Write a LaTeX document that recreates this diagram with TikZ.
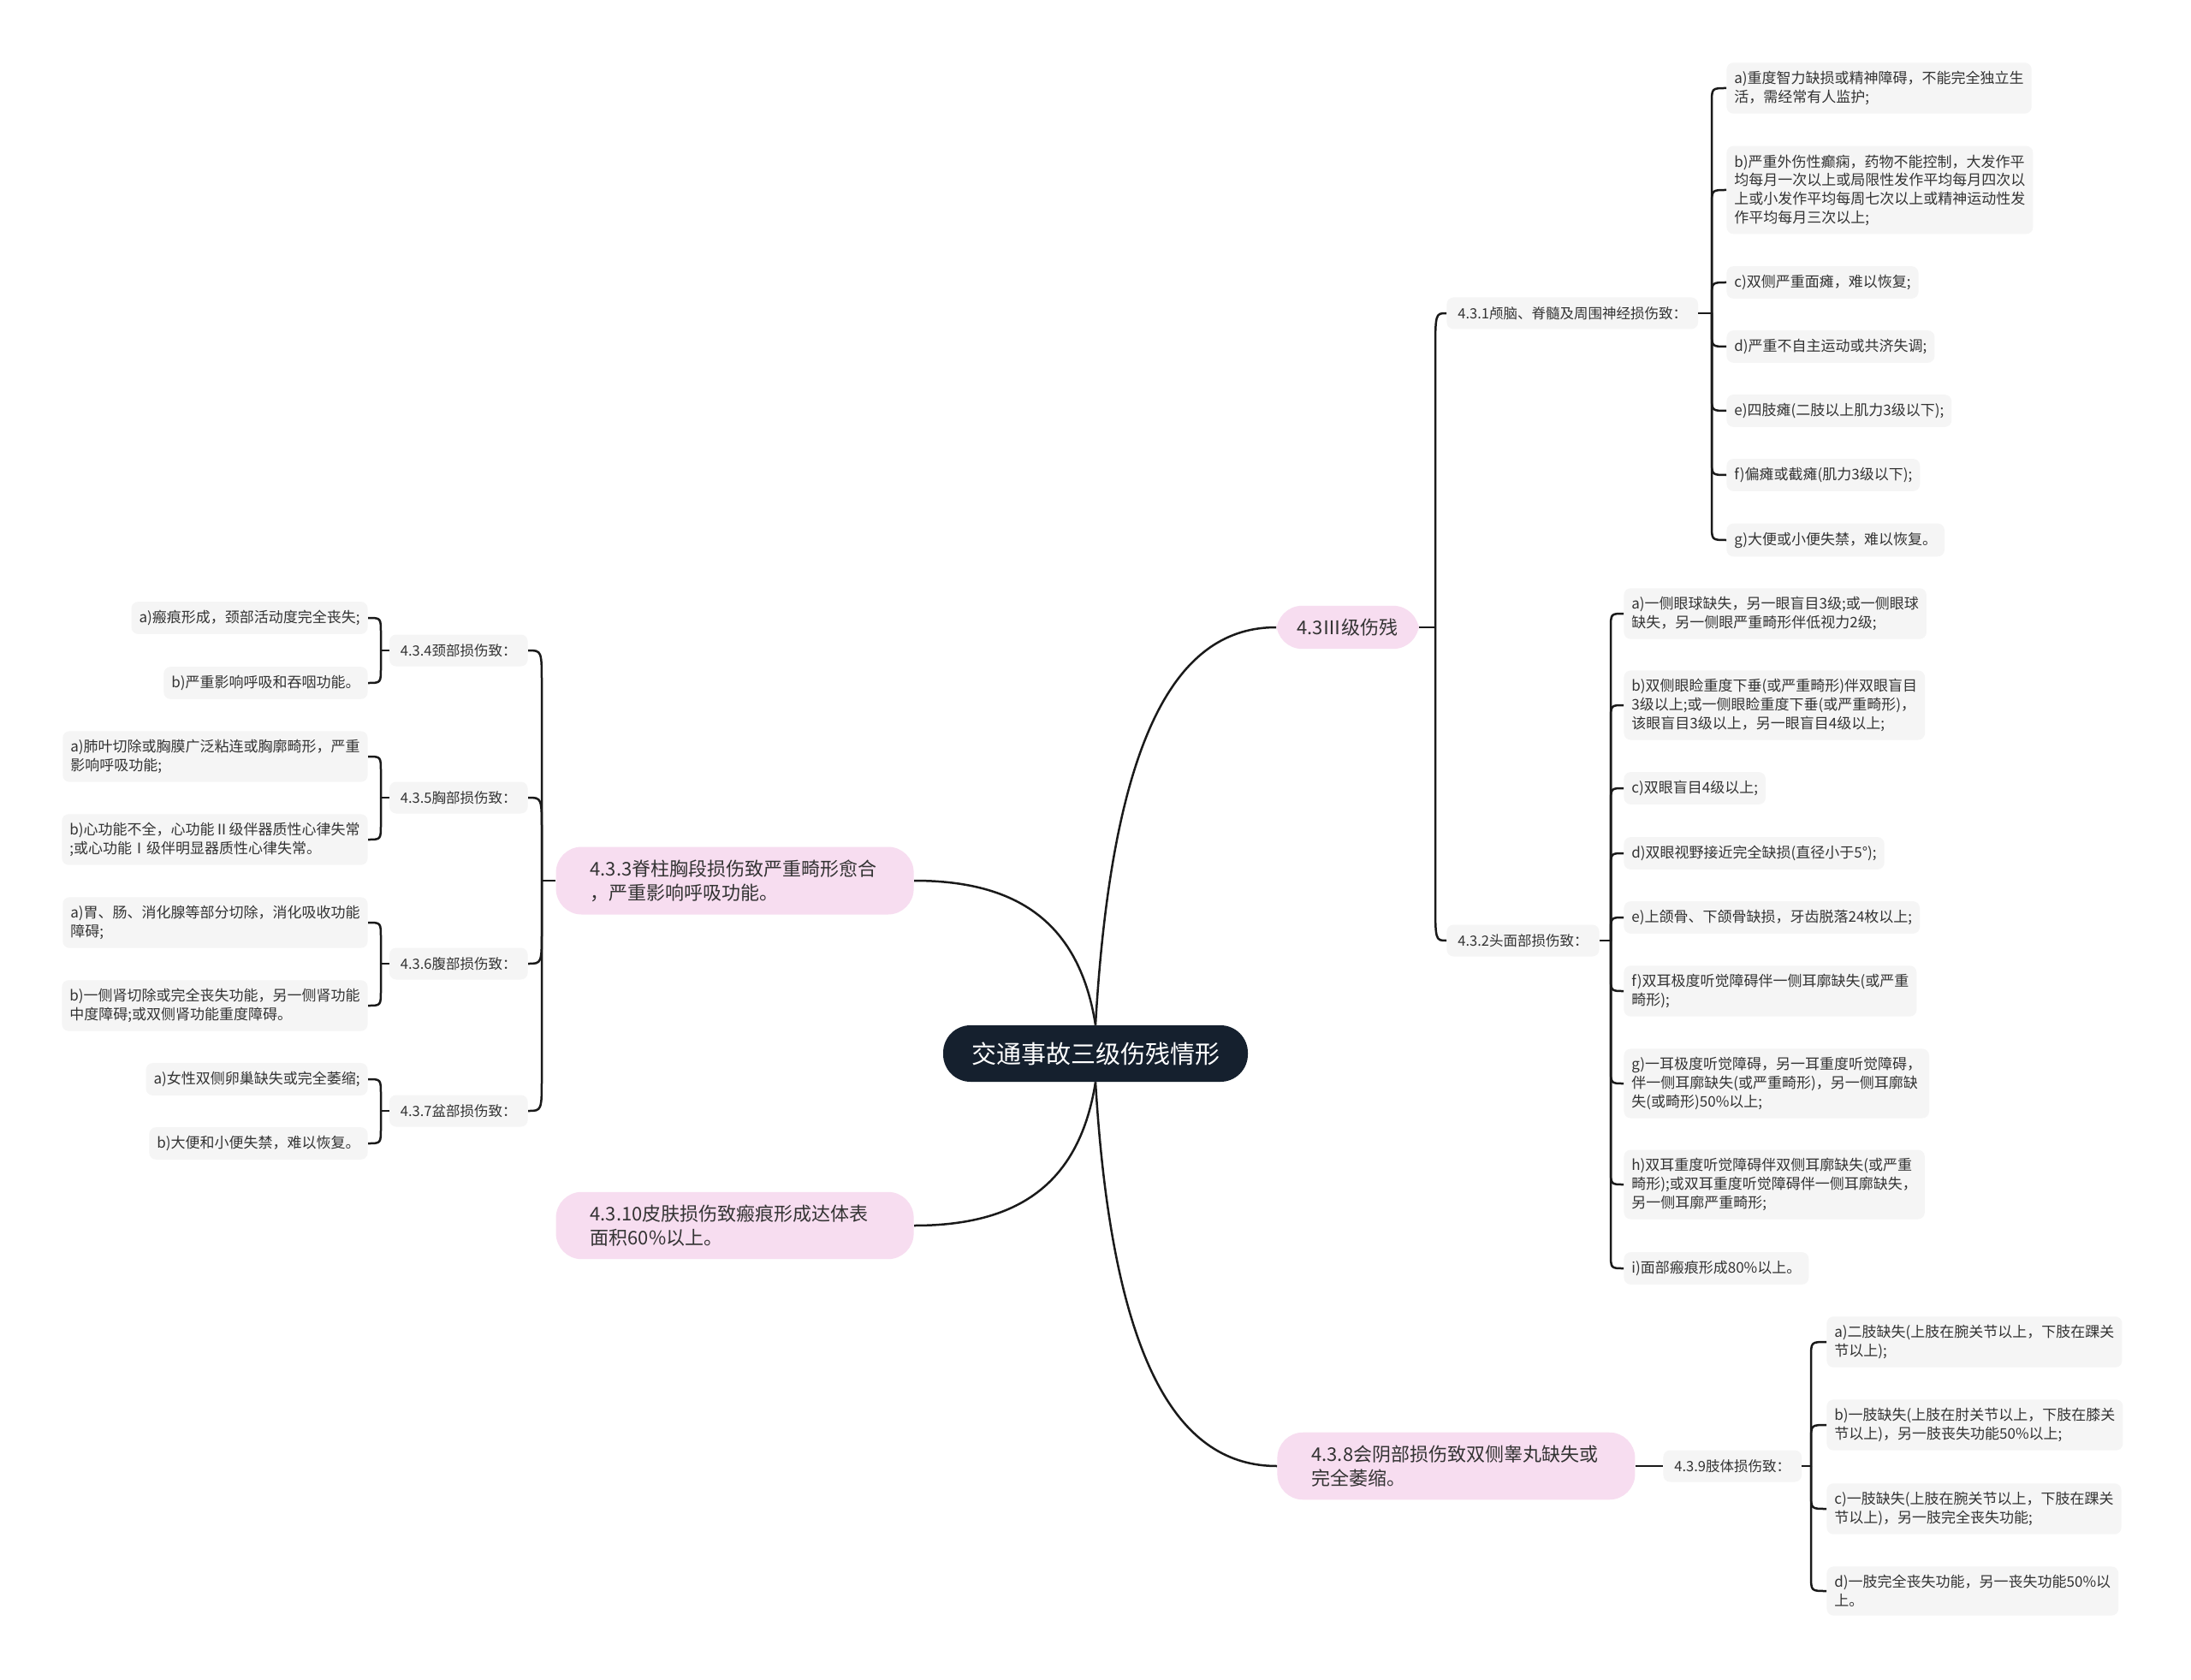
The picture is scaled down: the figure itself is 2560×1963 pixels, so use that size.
\documentclass[tikz,border=0pt]{standalone}
\usepackage{fontspec}
\newfontfamily\cjk{Noto Sans CJK SC}
\usetikzlibrary{calc}
\definecolor{leaffill}{HTML}{F5F5F5}
\definecolor{pinkfill}{HTML}{F7DDF0}
\definecolor{navy}{HTML}{15202E}
\definecolor{txt}{HTML}{333333}
\definecolor{edge}{HTML}{1A1A1A}
\newcommand\mmbr[3]{\draw[conn] (#1) -- ($(#1 |- #2)+(0,#3)$) .. controls (#1 |- #2) .. (#2);}
\begin{document}
\begin{tikzpicture}[x=0.5pt,y=-0.5pt,
  leaf/.style={fill=leaffill, rounded corners=4pt, text=txt, align=left, inner xsep=4.5pt, inner ysep=5pt, font=\cjk\fontsize{8.5pt}{10.85pt}\selectfont},
  sub/.style={fill=leaffill, rounded corners=4pt, text=txt, inner xsep=6.5pt, minimum height=18.5pt, font=\cjk\fontsize{8.25pt}{10pt}\selectfont},
  mainb/.style={fill=pinkfill, rounded corners=15pt, text=txt, align=left, inner xsep=20pt, inner ysep=7.5pt, font=\cjk\fontsize{11pt}{14pt}\selectfont},
  root/.style={fill=navy, text=white, rounded corners=16pt, minimum width=178pt, minimum height=33pt, font=\cjk\fontsize{14.5pt}{17pt}\selectfont},
  conn/.style={draw=edge, line width=1.25pt}]
\fill[white] (0,0) rectangle (2560,1963);
\path[use as bounding box] (0,0) rectangle (2560,1963);

% root and main branches
\node[root] (root) at (1280,1231) {交通事故三级伤残情形};
\node[mainb, anchor=west, inner xsep=12pt] (n43) at (1491,733) {4.3Ⅲ级伤残};
\node[mainb, anchor=east, text width=169pt] (n433) at (1068,1029) {4.3.3脊柱胸段损伤致严重畸形愈合\\，严重影响呼吸功能。};
\node[mainb, anchor=east, text width=169pt] (n4310) at (1068,1432) {4.3.10皮肤损伤致瘢痕形成达体表\\面积60\%以上。};
\node[mainb, anchor=west, text width=169pt] (n438) at (1492,1713) {4.3.8会阴部损伤致双侧睾丸缺失或\\完全萎缩。};

\draw[conn] (root.north) .. controls +(20,-348) and +(-112,0) .. (n43.west);
\draw[conn] (root.south) .. controls +(20,336) and +(-112,0) .. (n438.west);
\draw[conn] (root.north) .. controls +(-20,-127) and +(112,0) .. (n433.east);
\draw[conn] (root.south) .. controls +(-20,127) and +(112,0) .. (n4310.east);

% level 2
\node[sub, anchor=west, minimum width=144.5pt] (n431) at (1690,366) {4.3.1颅脑、脊髓及周围神经损伤致：};
\node[sub, anchor=west] (n432) at (1690,1099) {4.3.2头面部损伤致：};
\node[sub, anchor=west] (n439) at (1943,1713) {4.3.9肢体损伤致：};
\node[sub, anchor=east] (n434) at (617,760) {4.3.4颈部损伤致：};
\node[sub, anchor=east] (n435) at (617,932) {4.3.5胸部损伤致：};
\node[sub, anchor=east] (n436) at (617,1126) {4.3.6腹部损伤致：};
\node[sub, anchor=east] (n437) at (617,1298) {4.3.7盆部损伤致：};

\coordinate (s43) at (1677,733);
\coordinate (s433) at (633,1029);
\draw[conn] (n43.east) -- (s43);
\draw[conn] (n433.west) -- (s433);
\draw[conn] (n438.east) -- (n439.west);
\mmbr{s43}{n431.west}{50}
\mmbr{s43}{n432.west}{-50}
\mmbr{s433}{n434.east}{40}
\mmbr{s433}{n435.east}{40}
\mmbr{s433}{n436.east}{-40}
\mmbr{s433}{n437.east}{-40}

% leaves of 4.3.1
\node[leaf, anchor=west] (l1a) at (2017,103) {a)重度智力缺损或精神障碍，不能完全独立生\\活，需经常有人监护;};
\node[leaf, anchor=west] (l1b) at (2017,222) {b)严重外伤性癫痫，药物不能控制，大发作平\\均每月一次以上或局限性发作平均每月四次以\\上或小发作平均每周七次以上或精神运动性发\\作平均每月三次以上;};
\node[leaf, anchor=west] (l1c) at (2017,330) {c)双侧严重面瘫，难以恢复;};
\node[leaf, anchor=west] (l1d) at (2017,405) {d)严重不自主运动或共济失调;};
\node[leaf, anchor=west] (l1e) at (2017,480) {e)四肢瘫(二肢以上肌力3级以下);};
\node[leaf, anchor=west] (l1f) at (2017,555) {f)偏瘫或截瘫(肌力3级以下);};
\node[leaf, anchor=west] (l1g) at (2017,631) {g)大便或小便失禁，难以恢复。};
\coordinate (s431) at (2000,366);
\draw[conn] (n431.east) -- (s431);
\mmbr{s431}{l1a.west}{18}
\mmbr{s431}{l1b.west}{18}
\mmbr{s431}{l1c.west}{18}
\mmbr{s431}{l1d.west}{-18}
\mmbr{s431}{l1e.west}{-18}
\mmbr{s431}{l1f.west}{-18}
\mmbr{s431}{l1g.west}{-18}

% leaves of 4.3.2
\node[leaf, anchor=west] (l2a) at (1897,717) {a)一侧眼球缺失，另一眼盲目3级;或一侧眼球\\缺失，另一侧眼严重畸形伴低视力2级;};
\node[leaf, anchor=west] (l2b) at (1897,824) {b)双侧眼睑重度下垂(或严重畸形)伴双眼盲目\\3级以上;或一侧眼睑重度下垂(或严重畸形)，\\该眼盲目3级以上，另一眼盲目4级以上;};
\node[leaf, anchor=west] (l2c) at (1897,921) {c)双眼盲目4级以上;};
\node[leaf, anchor=west] (l2d) at (1897,997) {d)双眼视野接近完全缺损(直径小于5°);};
\node[leaf, anchor=west] (l2e) at (1897,1072) {e)上颌骨、下颌骨缺损，牙齿脱落24枚以上;};
\node[leaf, anchor=west] (l2f) at (1897,1158) {f)双耳极度听觉障碍伴一侧耳廓缺失(或严重\\畸形);};
\node[leaf, anchor=west] (l2g) at (1897,1266) {g)一耳极度听觉障碍，另一耳重度听觉障碍，\\伴一侧耳廓缺失(或严重畸形)，另一侧耳廓缺\\失(或畸形)50\%以上;};
\node[leaf, anchor=west] (l2h) at (1897,1384) {h)双耳重度听觉障碍伴双侧耳廓缺失(或严重\\畸形);或双耳重度听觉障碍伴一侧耳廓缺失，\\另一侧耳廓严重畸形;};
\node[leaf, anchor=west] (l2i) at (1897,1482) {i)面部瘢痕形成80\%以上。};
\coordinate (s432) at (1882,1099);
\draw[conn] (n432.east) -- (s432);
\mmbr{s432}{l2a.west}{18}
\mmbr{s432}{l2b.west}{18}
\mmbr{s432}{l2c.west}{18}
\mmbr{s432}{l2d.west}{18}
\mmbr{s432}{l2e.west}{18}
\mmbr{s432}{l2f.west}{-18}
\mmbr{s432}{l2g.west}{-18}
\mmbr{s432}{l2h.west}{-18}
\mmbr{s432}{l2i.west}{-18}

% leaves of 4.3.9
\node[leaf, anchor=west] (l9a) at (2134,1568) {a)二肢缺失(上肢在腕关节以上，下肢在踝关\\节以上);};
\node[leaf, anchor=west] (l9b) at (2134,1665) {b)一肢缺失(上肢在肘关节以上，下肢在膝关\\节以上)，另一肢丧失功能50\%以上;};
\node[leaf, anchor=west] (l9c) at (2134,1763) {c)一肢缺失(上肢在腕关节以上，下肢在踝关\\节以上)，另一肢完全丧失功能;};
\node[leaf, anchor=west] (l9d) at (2134,1859) {d)一肢完全丧失功能，另一丧失功能50\%以\\上。};
\coordinate (s439) at (2116,1713);
\draw[conn] (n439.east) -- (s439);
\mmbr{s439}{l9a.west}{18}
\mmbr{s439}{l9b.west}{18}
\mmbr{s439}{l9c.west}{-18}
\mmbr{s439}{l9d.west}{-18}

% leaves on the left
\node[leaf, anchor=east] (l4a) at (430,722) {a)瘢痕形成，颈部活动度完全丧失;};
\node[leaf, anchor=east] (l4b) at (430,798) {b)严重影响呼吸和吞咽功能。};
\node[leaf, anchor=east] (l5a) at (430,884) {a)肺叶切除或胸膜广泛粘连或胸廓畸形，严重\\影响呼吸功能;};
\node[leaf, anchor=east] (l5b) at (430,981) {b)心功能不全，心功能Ⅱ级伴器质性心律失常\\;或心功能Ⅰ级伴明显器质性心律失常。};
\node[leaf, anchor=east] (l6a) at (430,1078) {a)胃、肠、消化腺等部分切除，消化吸收功能\\障碍;};
\node[leaf, anchor=east] (l6b) at (430,1175) {b)一侧肾切除或完全丧失功能，另一侧肾功能\\中度障碍;或双侧肾功能重度障碍。};
\node[leaf, anchor=east] (l7a) at (430,1261) {a)女性双侧卵巢缺失或完全萎缩;};
\node[leaf, anchor=east] (l7b) at (430,1336) {b)大便和小便失禁，难以恢复。};
\coordinate (s434) at (445,760);
\coordinate (s435) at (445,932);
\coordinate (s436) at (445,1126);
\coordinate (s437) at (445,1298);
\draw[conn] (n434.west) -- (s434);
\draw[conn] (n435.west) -- (s435);
\draw[conn] (n436.west) -- (s436);
\draw[conn] (n437.west) -- (s437);
\mmbr{s434}{l4a.east}{18}
\mmbr{s434}{l4b.east}{-18}
\mmbr{s435}{l5a.east}{18}
\mmbr{s435}{l5b.east}{-18}
\mmbr{s436}{l6a.east}{18}
\mmbr{s436}{l6b.east}{-18}
\mmbr{s437}{l7a.east}{18}
\mmbr{s437}{l7b.east}{-18}
\end{tikzpicture}
\end{document}
